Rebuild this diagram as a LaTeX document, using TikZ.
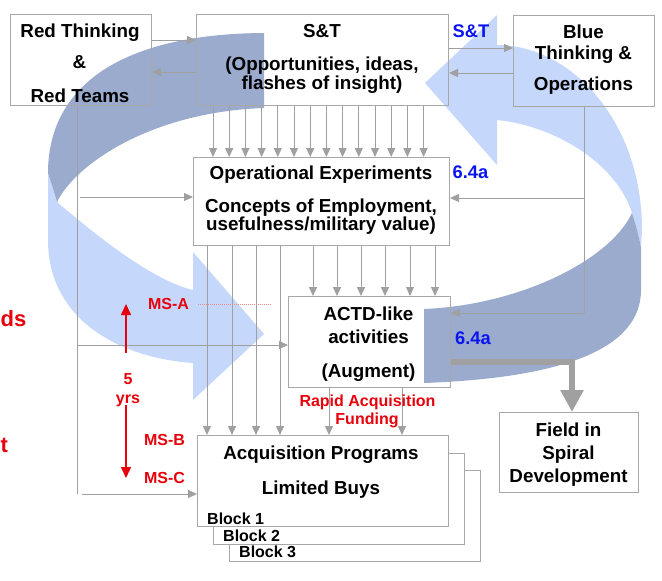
\documentclass[tikz,border=0pt]{standalone}
\usepackage{fontspec}
\setmainfont{Liberation Sans}
\usetikzlibrary{arrows.meta}
\definecolor{lnGray}{HTML}{A0A0A0}
\definecolor{bxGray}{HTML}{A8A8A8}
\definecolor{dkBand}{HTML}{9AABCE}
\definecolor{ltBand}{HTML}{C5D8FC}
\definecolor{msRed}{HTML}{E8000B}
\definecolor{lbBlue}{HTML}{0A14F0}
\definecolor{dotRed}{HTML}{F08A8A}
\begin{document}
\begin{tikzpicture}[x=1pt,y=-1pt,
  box/.style={draw=bxGray, line width=1pt, inner sep=0pt, anchor=north west},
  txt/.style={anchor=base, inner sep=0pt, font=\fontsize{18.8}{20}\selectfont\bfseries},
  ltxt/.style={anchor=base west, inner sep=0pt, font=\fontsize{16}{18}\selectfont\bfseries},
  rtxt/.style={anchor=base, inner sep=0pt, text=msRed, font=\fontsize{16}{18}\selectfont\bfseries},
  bigred/.style={anchor=base west, inner sep=0pt, text=msRed, font=\fontsize{22}{24}\selectfont\bfseries},
  btxt/.style={anchor=base, inner sep=0pt, text=lbBlue, font=\fontsize{18.3}{20}\selectfont\bfseries},
  conn/.style={draw=lnGray, line width=1pt, -{Triangle[length=9pt,width=8pt]}},
  plainline/.style={draw=lnGray, line width=1pt},
  thick arrow/.style={draw=lnGray, line width=6pt, -{Triangle[length=22pt,width=22pt]}},
  redarr/.style={draw=msRed, line width=1.5pt, -{Triangle[length=11pt,width=10pt]}},
  dotline/.style={draw=dotRed, line width=1pt, dash pattern=on 1pt off 1pt},
]
\useasboundingbox (0,0) rectangle (662,581);
\clip (0,0) rectangle (662,581);

% ---- spiral bands ----
\fill[ltBand] (48,173) -- (48,240) .. controls (48,320) and (120,358) .. (193,363)
  -- (193,400) -- (264,334) -- (193,252) -- (193,290)
  .. controls (150,280) and (90,230) .. (57,202)
  .. controls (55,195) and (52,185) .. (48,173) -- cycle;
\fill[dkBand] (264,33) .. controls (115,34) and (48,90) .. (48,173)
  .. controls (52,185) and (55,195) .. (57,202)
  .. controls (75,165) and (150,112) .. (264,108) -- cycle;
\fill[ltBand] (497,15) -- (425,83) -- (497,165) -- (497,120)
  .. controls (550,125) and (615,160) .. (632,213)
  .. controls (636,225) and (639,237) .. (641,247)
  -- (642,230) .. controls (642,120) and (570,45) .. (497,45) -- cycle;
\fill[dkBand] (632,213) .. controls (636,225) and (639,237) .. (641,247)
  -- (641,290) .. controls (641,350) and (560,378) .. (424,383)
  -- (424,309) .. controls (520,305) and (610,260) .. (632,213) -- cycle;

% ---- boxes ----
\node[box, minimum width=141pt, minimum height=91pt] (red) at (10,14) {};
\node[box, minimum width=252pt, minimum height=91pt] (st) at (196,14) {};
\node[box, minimum width=141pt, minimum height=91pt] (blue) at (513,15) {};
\node[box, minimum width=256pt, minimum height=88pt] (ops) at (193,157) {};
\node[box, minimum width=162pt, minimum height=91pt] (actd) at (288,296) {};
\node[box, fill=white, minimum width=251pt, minimum height=91pt] (blk3) at (229,470) {};
\node[box, fill=white, minimum width=251pt, minimum height=91pt] (blk2) at (213,453) {};
\node[box, fill=white, minimum width=251pt, minimum height=91pt] (acq) at (197,435) {};
\node[box, minimum width=139pt, minimum height=80pt] (field) at (499,412) {};

% ---- coordinates ----
\coordinate (h40) at (0,40);
\coordinate (h72) at (0,72);
\coordinate (h48) at (0,48);
\coordinate (h73) at (0,73);
\coordinate (rl) at (77,494);
\coordinate (rb1) at (80,197);
\coordinate (rb2) at (77,345);
\coordinate (rb3) at (82,494);
\coordinate (bl) at (584,313);
\coordinate (bb1) at (584,198);
\coordinate (thk) at (572,362);
\coordinate (ua0) at (126,353);
\coordinate (ua1) at (126,304);
\coordinate (da0) at (126,405);
\coordinate (da1) at (126,478);
\coordinate (d1) at (198,304);
\coordinate (d2) at (271,304);

% ---- connectors ----
\draw[conn] (red.east |- h40) -- (st.west |- h40);
\draw[conn] (st.west |- h72) -- (red.east |- h72);
\draw[conn] (st.east |- h48) -- (blue.west |- h48);
\draw[conn] (blue.west |- h73) -- (st.east |- h73);
\foreach \i in {0,...,13} {
  \pgfmathsetmacro{\xx}{213+16.2*\i}
  \draw[conn] (\xx,0 |- st.south) -- (\xx,0 |- ops.north);
}
\foreach \xx in {313,337,361,385,410,435} {
  \draw[conn] (\xx,0 |- ops.south) -- (\xx,0 |- actd.north);
}
\foreach \xx in {207,232,256,280} {
  \draw[conn] (\xx,0 |- ops.south) -- (\xx,0 |- acq.north);
}
\foreach \xx in {329,402} {
  \draw[conn] (\xx,0 |- actd.south) -- (\xx,0 |- acq.north);
}
\draw[plainline] (red.south -| rl) -- (rl);
\draw[conn] (rb1) -- (rb1 -| ops.west);
\draw[conn] (rb2) -- (rb2 -| actd.west);
\draw[conn] (rb3) -- (rb3 -| acq.west);
\draw[plainline] (blue.south -| bl) -- (bl);
\draw[conn] (bb1) -- (bb1 -| ops.east);
\draw[conn] (bl) -- (bl -| actd.east);
\draw[thick arrow] (actd.east |- thk) -- (thk) -- (thk |- field.north);
\draw[redarr] (ua0) -- (ua1);
\draw[redarr] (da0) -- (da1);
\draw[dotline] (d1) -- (d2);

% ---- box texts ----
\node[txt] (t1) at (80,37) {Red Thinking};
\node[txt] (t2) at (79.5,68) {\&};
\node[txt] (t3) at (80,102) {Red Teams};
\node[txt] (t4) at (322,37) {S\&T};
\node[txt] (t5) at (322,70) {(Opportunities, ideas,};
\node[txt] (t6) at (322,89.5) {flashes of insight)};
\node[txt] (t7) at (583.5,38) {Blue};
\node[txt] (t8) at (583.5,59) {Thinking \&};
\node[txt] (t9) at (583.5,90.5) {Operations};
\node[txt] (t10) at (321,179) {Operational Experiments};
\node[txt] (t11) at (321,212) {Concepts of Employment,};
\node[txt] (t12) at (321,230) {usefulness/military value)};
\node[txt] (t13) at (368.5,320) {ACTD-like};
\node[txt] (t14) at (368.5,343) {activities};
\node[txt] (t15) at (368.5,377) {(Augment)};
\node[txt] (t16) at (321,459) {Acquisition Programs};
\node[txt] (t17) at (321,494) {Limited Buys};
\node[ltxt] (t18) at (207,524) {Block 1};
\node[ltxt] (t19) at (223,541) {Block 2};
\node[ltxt] (t20) at (239,557) {Block 3};
\node[txt] (t21) at (568.5,436) {Field in};
\node[txt] (t22) at (568.5,459) {Spiral};
\node[txt] (t23) at (568.5,482) {Development};

% ---- labels ----
\node[btxt] (l1) at (471,37) {S\&T};
\node[btxt] (l2) at (470.5,178) {6.4a};
\node[btxt] (l3) at (473,344) {6.4a};
\node[rtxt] (l4) at (168.5,309) {MS-A};
\node[rtxt] (l5) at (164.5,445) {MS-B};
\node[rtxt] (l6) at (164.5,483) {MS-C};
\node[rtxt] (l7) at (128,384) {5};
\node[rtxt] (l8) at (128,403) {yrs};
\node[rtxt] (l9) at (367.5,406) {Rapid Acquisition};
\node[rtxt] (l10) at (367,424) {Funding};
\node[bigred] (l11) at (0.5,326) {ds};
\node[bigred] (l12) at (0.5,452) {t};
\end{tikzpicture}
\end{document}
